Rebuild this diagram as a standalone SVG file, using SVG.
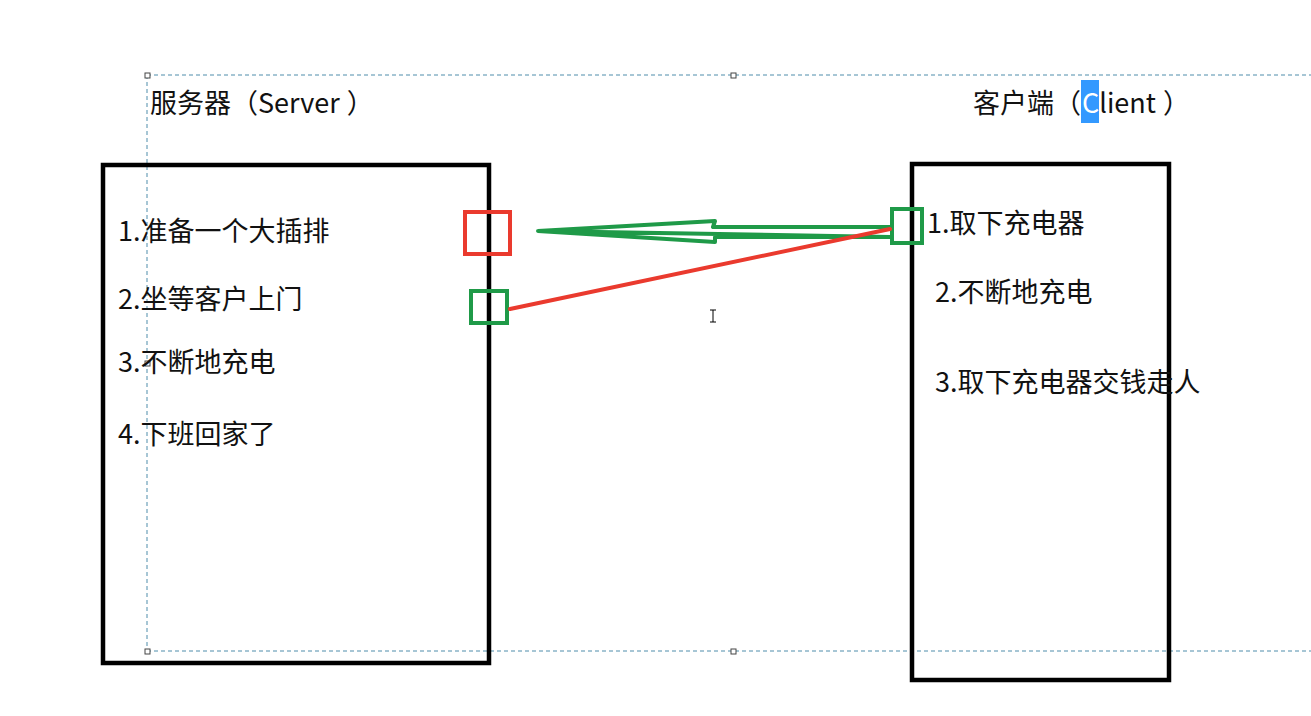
<svg xmlns="http://www.w3.org/2000/svg" width="1311" height="716" viewBox="0 0 1311 716">
<style>
text{font-family:"Microsoft YaHei","Noto Sans CJK SC","Noto Sans",sans-serif;font-size:27px;fill:#111}
.box{fill:none;stroke:#000;stroke-width:4.5}
.sel{fill:none;stroke:#4f8dab;stroke-width:1;stroke-dasharray:4 3}
.h{fill:#fff;stroke:#444;stroke-width:1}
.g{fill:none;stroke:#1f9a48;stroke-width:4}
.r{fill:none;stroke:#ea3a2e;stroke-width:4}
</style>
<rect width="1311" height="716" fill="#fff"/>
<g id="selection">
<path class="sel" d="M147 75H1311M147 75V651M147 651H1311"/>
<rect class="h" x="145" y="73" width="5" height="5"/>
<rect class="h" x="731" y="73" width="5" height="5"/>
<rect class="h" x="145" y="649" width="5" height="5"/>
<rect class="h" x="731" y="649" width="5" height="5"/>
<rect class="h" x="145" y="361" width="5" height="5"/>
</g>
<g id="server">
<rect class="box" x="103" y="165" width="386" height="498"/>
<text x="150" y="113">服务器（Server<tspan dx="7">）</tspan></text>
<text x="118" y="241">1.准备一个大插排</text>
<text x="118" y="309">2.坐等客户上门</text>
<text x="118" y="372">3.不断地充电</text>
<text x="118" y="444">4.下班回家了</text>
</g>
<g id="client">
<rect class="box" x="912" y="164" width="257" height="516"/>
<rect x="1081" y="80" width="18" height="43" fill="#3399ff"/>
<text x="973" y="113">客户端（<tspan dx="1" style="fill:#fff">C</tspan>lient<tspan dx="7">）</tspan></text>
<text x="927" y="233">1.取下充电器</text>
<text x="935" y="302">2.不断地充电</text>
<text x="935" y="392">3.取下充电器交钱走人</text>
</g>
<g id="connectors">
<rect class="r" x="465" y="212" width="45" height="42"/>
<rect class="g" x="471" y="291" width="36" height="32"/>
<rect class="g" x="892" y="209" width="30" height="34"/>
<path class="g" stroke-linejoin="round" d="M538 231L715 221L713 227H890M890 237H715L715 242L538 231Z"/>
<path class="r" d="M510 309L890 229" stroke-linecap="round"/>
</g>
<g id="cursor">
<path d="M710 310h6M713 310v12M710 322h6" fill="none" stroke="#000" stroke-width="1"/>
</g>
</svg>
